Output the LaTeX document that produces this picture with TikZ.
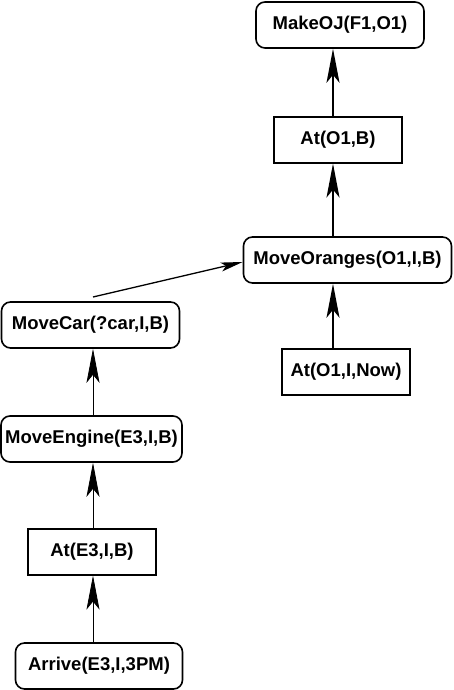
\documentclass[tikz,border=0pt]{standalone}
\usepackage{fontspec}
\setmainfont{Liberation Sans}
\usetikzlibrary{arrows.meta, positioning, shapes}
\tikzset{
    roundnode/.style={rectangle, rounded corners=9pt, draw=black, line width=1.6pt, inner sep=0pt, minimum height=46pt, text centered, font=\fontsize{18.5}{18.5}\selectfont\bfseries},
    boxnode/.style={rectangle, draw=black, line width=1.2pt, inner sep=0pt, minimum width=128pt, minimum height=46pt, text centered, font=\fontsize{18.5}{18.5}\selectfont\bfseries},
    myarrow/.style={-{Stealth[length=34pt, width=13pt, inset=8pt]}, line width=1.8pt},
    thinarrow/.style={-{Stealth[length=34pt, width=13pt, inset=8pt]}, line width=0.8pt},
    linkarrow/.style={-{Stealth[length=22pt, width=9pt, inset=5pt]}, line width=1.3pt}
}

\begin{document}
\begin{tikzpicture}[x=1pt, y=1pt]

        \useasboundingbox (0,0) rectangle (453,690);

        % ------------------
        % nodes
        % ------------------

        \node[roundnode, minimum width=168pt] (makeoj) at (340,665) {MakeOJ(F1,O1)};
        \node[boxnode] (atob) at (338,550) {At(O1,B)};
        \node[roundnode, minimum width=208pt] (moveoranges) at (347.5,430) {MoveOranges(O1,I,B)};
        \node[boxnode] (atoinow) at (346,318) {At(O1,I,Now)};

        \node[roundnode, minimum width=178pt] (movecar) at (90.5,365) {MoveCar(?car,I,B)};
        \node[roundnode, minimum width=181pt] (moveengine) at (91.5,251) {MoveEngine(E3,I,B)};
        \node[boxnode] (ateib) at (92,138) {At(E3,I,B)};
        \node[roundnode, minimum width=167pt] (arrive) at (99,24) {Arrive(E3,I,3PM)};

        \coordinate (rightline) at (333,0);
        \coordinate (leftline) at (93,0);
        \coordinate (linkstart) at (93,393);

        % ------------------
        % arrows
        % ------------------

        \draw[myarrow] (atob.north -| rightline) -- (makeoj.south -| rightline);
        \draw[myarrow] (moveoranges.north -| rightline) -- (atob.south -| rightline);
        \draw[myarrow] (atoinow.north -| rightline) -- (moveoranges.south -| rightline);

        \draw[thinarrow] (moveengine.north -| leftline) -- (movecar.south -| leftline);
        \draw[thinarrow] (ateib.north -| leftline) -- (moveengine.south -| leftline);
        \draw[thinarrow] (arrive.north -| leftline) -- (ateib.south -| leftline);

        \draw[linkarrow] (linkstart) -- ([yshift=-2pt]moveoranges.west);

\end{tikzpicture}
\end{document}
